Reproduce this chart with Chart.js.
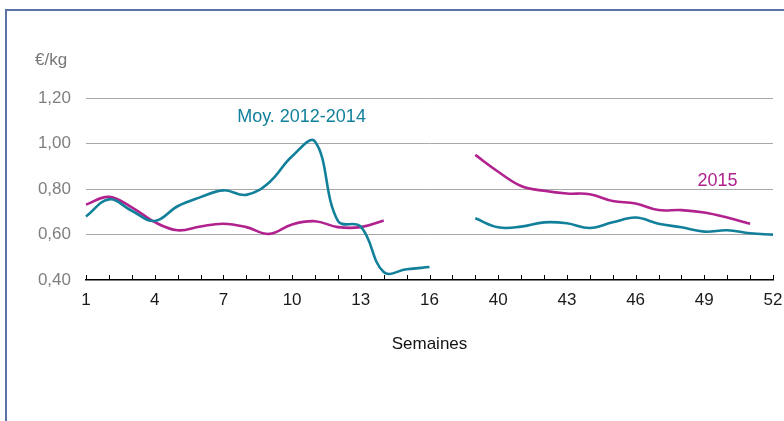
<!DOCTYPE html>
<html>
<head>
<meta charset="utf-8">
<script src="https://cdn.jsdelivr.net/npm/chart.js@4"></script>
<style>
    body { margin: 0; background: #fff; }
    #wrap { position: relative; width: 784px; height: 421px; }
    #frame { position: absolute; left: 5px; top: 9px; width: 800px; height: 500px;
             border-left: 2px solid #5b72a6; border-top: 2px solid #5b72a6; pointer-events: none; }
</style>
</head>
<body>
<div id="wrap">
    <canvas id="chart" width="784" height="421"></canvas>
    <div id="frame"></div>
</div>
<script>
/* weeks 1-17 then 39-52 (gap between) */
const weeks = ["1","2","3","4","5","6","7","8","9","10","11","12","13","14","15","16","17",
               "39","40","41","42","43","44","45","46","47","48","49","50","51","52"];

const avg2012_2014 = [0.68, 0.755, 0.705, 0.66, 0.725, 0.765, 0.795, 0.775, 0.83, 0.945, 1.01, 0.66, 0.635, 0.435, 0.447, 0.457, null,
                      0.672, 0.632, 0.635, 0.654, 0.65, 0.629, 0.654, 0.675, 0.648, 0.632, 0.613, 0.619, 0.606, 0.60];

const prices2015 = [0.732, 0.766, 0.72, 0.655, 0.619, 0.636, 0.648, 0.633, 0.603, 0.645, 0.659, 0.633, 0.633, 0.662, null, null, null,
                    0.951, 0.877, 0.814, 0.793, 0.781, 0.778, 0.748, 0.737, 0.708, 0.708, 0.697, 0.675, 0.648, null];

const yTicks = [0.4, 0.6, 0.8, 1.0, 1.2];

const TEAL = "#12809b";
const MAGENTA = "#b1228e";
const FONT = "'Liberation Sans', Arial, sans-serif";

/* series labels placed on the chart: [text, category index, value, colour] */
const seriesLabels = [
    ["Moy. 2012-2014", 6.6, 1.12, TEAL],
    ["2015", 26.7, 0.837, MAGENTA]
];

/* small upward tick marks on the x axis + in-chart series labels */
const extras = {
    id: "extras",
    afterDraw(chart) {
        const ctx = chart.ctx;
        const x = chart.scales.x;
        const y = chart.scales.y;

        ctx.save();
        ctx.strokeStyle = "#000";
        ctx.lineWidth = 1;
        for (let i = 0; i < x.ticks.length; i++) {
            let px = Math.round(x.getPixelForTick(i)) + 0.5;
            ctx.beginPath();
            ctx.moveTo(px, x.top);
            ctx.lineTo(px, x.top - 5);
            ctx.stroke();
        }

        ctx.font = "18px " + FONT;
        ctx.textBaseline = "middle";
        ctx.textAlign = "left";
        seriesLabels.forEach(l => {
            ctx.fillStyle = l[3];
            ctx.fillText(l[0], x.getPixelForValue(l[1]), y.getPixelForValue(l[2]));
        });
        ctx.restore();
    }
};

new Chart(document.getElementById("chart"), {
    type: "line",
    data: {
        labels: weeks,
        datasets: [
            {
                label: "Moy. 2012-2014",
                data: avg2012_2014,
                borderColor: TEAL,
                borderWidth: 2.6,
                pointRadius: 0,
                tension: 0.4,
                spanGaps: false
            },
            {
                label: "2015",
                data: prices2015,
                borderColor: MAGENTA,
                borderWidth: 2.6,
                pointRadius: 0,
                tension: 0.4,
                spanGaps: false
            }
        ]
    },
    options: {
        responsive: false,
        animation: false,
        layout: { padding: { left: 35, right: 11, top: 0, bottom: 0 } },
        plugins: {
            legend: { display: false },
            tooltip: { enabled: false },
            title: {
                display: true,
                text: "€/kg",
                align: "start",
                color: "#777",
                font: { family: FONT, size: 17, weight: "normal" },
                padding: { top: 50, bottom: 28 }
            }
        },
        scales: {
            x: {
                offset: false,
                grid: { display: false, drawTicks: false },
                border: { display: true, color: "#000", width: 1.5 },
                ticks: {
                    autoSkip: false,
                    maxRotation: 0,
                    padding: 10,
                    color: "#1a1a1a",
                    font: { family: FONT, size: 17 },
                    callback: function (val, i) { return i % 3 === 0 ? weeks[i] : ""; }
                },
                title: {
                    display: true,
                    text: "Semaines",
                    color: "#111",
                    font: { family: FONT, size: 17 },
                    padding: { top: 0, bottom: 66 }
                },
                afterFit: s => {
                    s.height = 141;
                    s.paddingLeft = 0;
                    s.paddingRight = 0;
                }
            },
            y: {
                min: 0.4,
                max: 1.2,
                afterBuildTicks: s => { s.ticks = yTicks.map(v => ({ value: v })); },
                grid: {
                    drawTicks: false,
                    lineWidth: 1,
                    color: c => Math.abs(c.tick.value - 0.4) < 1e-6 ? "rgba(0,0,0,0)" : "#a8a8a8"
                },
                border: { display: false },
                ticks: {
                    padding: 15,
                    color: "#7f7f7f",
                    font: { family: FONT, size: 17 },
                    callback: v => v.toFixed(2).replace(".", ",")
                },
                afterFit: s => { s.width = 51; }
            }
        }
    },
    plugins: [extras]
});
</script>
</body>
</html>
